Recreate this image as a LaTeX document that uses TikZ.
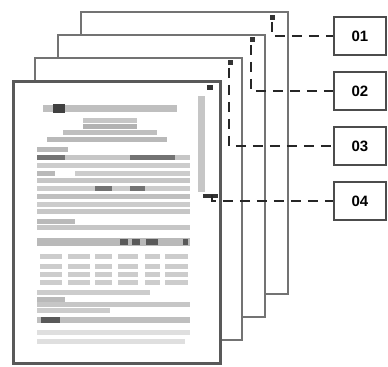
\documentclass[tikz,border=0pt]{standalone}
\usepackage{fontspec}
\setmainfont{Liberation Sans}
\usetikzlibrary{positioning, calc}

\begin{document}
\begin{tikzpicture}[
    x=0.5pt, y=-0.5pt,
    every node/.style={font=\fontsize{7.5}{9}\selectfont\bfseries},
    page/.style={rectangle, draw=black!55, fill=white, line width=1.1pt, anchor=north west, minimum width=103.5pt, minimum height=141pt, inner sep=0pt},
    tag/.style={rectangle, draw=black!70, fill=white, line width=1pt, minimum width=26pt, minimum height=19pt},
    conn/.style={line width=1.2pt, black!85, dash pattern=on 5pt off 3.5pt},
    scrollmark/.style={fill=black!80},
    txt/.style={fill=gray!50}
]

\useasboundingbox (0,0) rectangle (388,367);

\node[page] (page1) at (80,11) {};
\node[page] (page2) at (57,34) {};
\node[page] (page3) at (34,57) {};
\node[page, draw=black!65, line width=1.3pt] (page4) at (12,80) {};

\fill[scrollmark] (270,15) rectangle (275,20);
\fill[scrollmark] (250,37) rectangle (255,42);
\fill[scrollmark] (228,60) rectangle (233,65);
\fill[scrollmark] (207,85) rectangle (213,90);
\fill[gray!45] (198,96) rectangle (205,192);
\fill[scrollmark] (203,194) rectangle (218,198);

\fill[txt] (43,105) rectangle (177,112);
\fill[black!75] (53,104) rectangle (65,113);
\foreach \y/\a/\b/\c in {121/83/137/45, 127/83/137/60, 133/63/157/50, 140/47/167/55,
    150/37/68/55, 158/37/190/45, 166/37/190/40, 174/37/55/55, 174/75/190/40,
    181/37/190/45, 189/37/190/40, 197/37/190/50, 205/37/190/40, 212/37/190/45,
    222/37/75/55, 228/37/190/45, 293/37/150/40, 300/37/65/55, 305/37/190/45,
    311/37/110/40, 333/37/190/25, 342/37/185/25}
    \fill[gray!\c] (\a,\y-2.5) rectangle (\b,\y+2.5);
\foreach \a/\b in {37/65, 130/150, 150/175}
    \fill[black!55] (\a,155.5) rectangle (\b,160.5);
\foreach \a/\b in {95/112, 130/145}
    \fill[black!55] (\a,186.5) rectangle (\b,191.5);
\fill[gray!55] (37,238) rectangle (190,246);
\foreach \a/\b in {120/128, 132/140, 146/158, 183/188}
    \fill[black!65] (\a,239) rectangle (\b,245);
\foreach \y in {257,267,275,283}
    \foreach \a/\b in {40/62, 68/90, 95/112, 118/138, 145/160, 165/188}
        \fill[gray!40] (\a,\y-2.5) rectangle (\b,\y+2.5);
\fill[gray!50] (37,317) rectangle (190,323);
\fill[black!65] (41,317) rectangle (60,323);

\node[tag] (box01) at (360,36) {01};
\node[tag, below=7.5pt of box01] (box02) {02};
\node[tag, below=7.5pt of box02] (box03) {03};
\node[tag, below=7.5pt of box03] (box04) {04};

\coordinate (start1) at (272,22);
\coordinate (start2) at (251,45);
\coordinate (start3) at (229,68);
\coordinate (start4) at (212,195);

\draw[conn] (start1) |- (box01);
\draw[conn] (start2) |- (box02);
\draw[conn] (start3) |- (box03);
\draw[conn] (start4) |- (box04);

\end{tikzpicture}
\end{document}
